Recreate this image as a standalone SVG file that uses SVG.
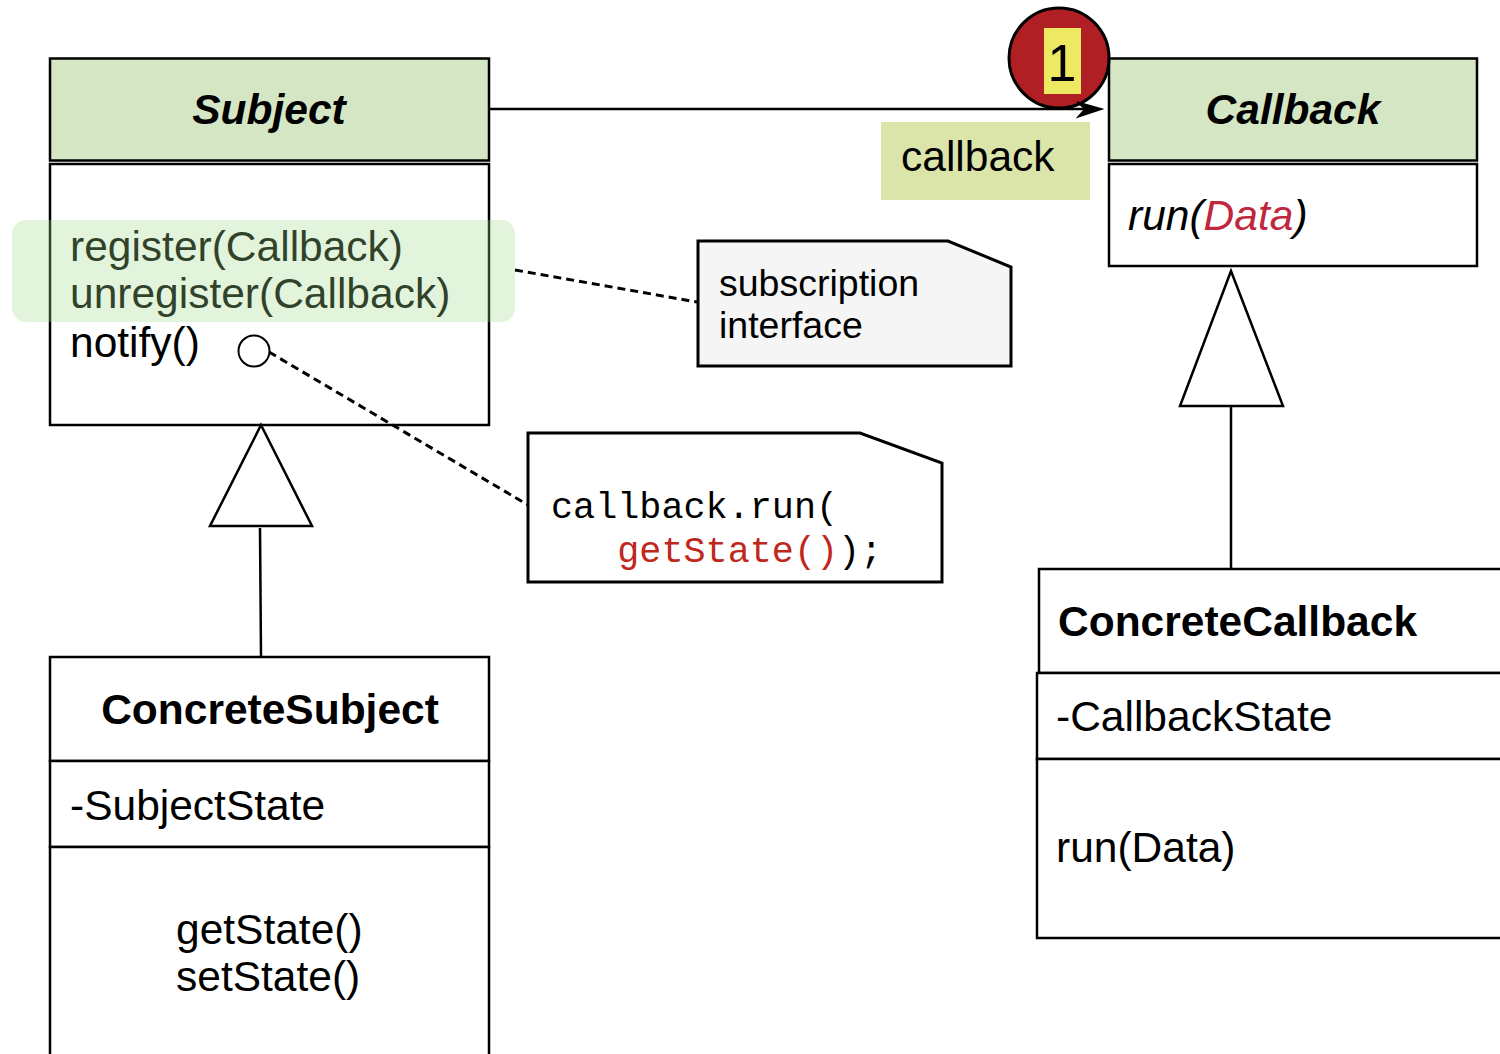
<svg xmlns="http://www.w3.org/2000/svg" width="1500" height="1054" viewBox="0 0 1500 1054">
<style>
.box{fill:#ffffff;stroke:#000;stroke-width:2.5}
.hdr{fill:#d5e6c4;stroke:#000;stroke-width:2.5}
.t{font-family:"Liberation Sans",Arial,sans-serif;font-size:42.5px;fill:#000}
.b{font-weight:bold}
.i{font-style:italic}
.note{stroke:#000;stroke-width:3;stroke-linejoin:miter}
.nt{font-family:"Liberation Sans",Arial,sans-serif;font-size:37.5px;fill:#000}
.mono{font-family:"Liberation Mono","DejaVu Sans Mono",monospace;font-size:36.8px;fill:#000}
.dot{fill:none;stroke:#000;stroke-width:3;stroke-dasharray:8 5}
.ln{fill:none;stroke:#000;stroke-width:2.5}
.tri{fill:#fff;stroke:#000;stroke-width:2.5}
</style>
<g id="subject">
<rect class="hdr" x="50" y="58.5" width="439" height="102"/>
<rect class="box" x="50" y="164" width="439" height="261"/>
<text class="t b i" x="269" y="124" text-anchor="middle">Subject</text>
<text class="t" x="70" y="261">register(Callback)</text>
<text class="t" x="70" y="308">unregister(Callback)</text>
<text class="t" x="70" y="357">notify()</text>
</g>
<g id="subscription-highlight">
<rect x="12" y="220" width="503" height="102" rx="14" fill="#a2dc8c" fill-opacity="0.3"/>
</g>
<g id="callback">
<rect class="hdr" x="1109" y="58.5" width="368" height="102"/>
<rect class="box" x="1109" y="164" width="368" height="102"/>
<text class="t b i" x="1293" y="124" text-anchor="middle">Callback</text>
<text class="t i" x="1128" y="230">run(<tspan fill="#c0273d">Data</tspan>)</text>
</g>
<g id="callback-label">
<rect x="881" y="122" width="209" height="78" fill="#dbe4a9"/>
<text class="t" x="901" y="171">callback</text>
</g>
<g id="note-subscription">
<polygon class="note" points="698,241 948,241 1011,267 1011,366 698,366" fill="#f5f5f5"/>
<text class="nt" x="719" y="296">subscription</text>
<text class="nt" x="719" y="338">interface</text>
</g>
<g id="note-notify">
<polygon class="note" points="528,433 860,433 942,463 942,582 528,582" fill="#ffffff"/>
<text class="mono" x="551" y="518">callback.run(</text>
<text class="mono" x="551" y="562" xml:space="preserve">   <tspan fill="#c0281c">getState()</tspan>);</text>
</g>
<g id="concrete-subject">
<rect class="box" x="50" y="657" width="439" height="104"/>
<rect class="box" x="50" y="761" width="439" height="86"/>
<rect class="box" x="50" y="847" width="439" height="220"/>
<text class="t b" x="270" y="724" text-anchor="middle">ConcreteSubject</text>
<text class="t" x="70" y="820">-SubjectState</text>
<text class="t" x="176" y="944">getState()</text>
<text class="t" x="176" y="991">setState()</text>
</g>
<g id="concrete-callback">
<rect class="box" x="1039" y="569" width="480" height="104"/>
<rect class="box" x="1037" y="673" width="482" height="86"/>
<rect class="box" x="1037" y="759" width="482" height="179"/>
<text class="t b" x="1058" y="636">ConcreteCallback</text>
<text class="t" x="1056" y="731">-CallbackState</text>
<text class="t" x="1056" y="862">run(Data)</text>
</g>
<g id="connectors">
<line class="ln" x1="489" y1="109" x2="1098" y2="109"/>
<polygon class="tri" points="261,425 210,526 312,526"/>
<line class="ln" x1="260" y1="528" x2="261" y2="657"/>
<polygon class="tri" points="1231,271 1180,406 1283,406"/>
<line class="ln" x1="1231" y1="406" x2="1231" y2="569"/>
<line class="dot" x1="515" y1="270" x2="697" y2="302"/>
<line class="dot" x1="269" y1="352" x2="528" y2="505"/>
<circle cx="254" cy="351" r="15.5" fill="#fff" stroke="#000" stroke-width="2"/>
</g>
<g id="badge">
<circle cx="1059" cy="58" r="50" fill="#b01f24" stroke="#000" stroke-width="3"/>
<rect x="1044" y="28" width="37" height="66" fill="#ede963"/>
<text x="1062" y="81" text-anchor="middle" font-family="'Liberation Sans',Arial,sans-serif" font-size="52" fill="#000">1</text>
<path d="M1077,102 L1102,109 L1078,117 L1085,109 Z" fill="#000" stroke="#000" stroke-width="1.5" stroke-linejoin="miter"/>
</g>
</svg>
